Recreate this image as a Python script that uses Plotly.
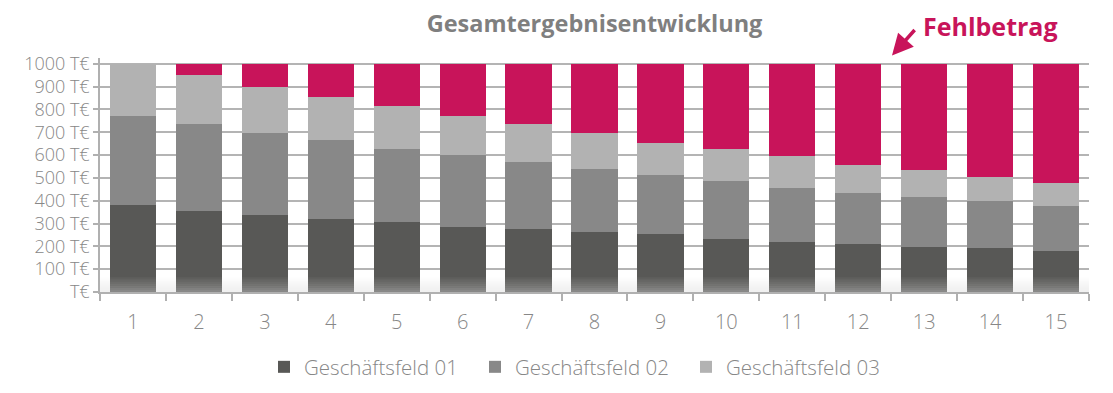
import plotly.graph_objects as go

categories = [str(i) for i in range(1, 16)]
gf01 = [383, 353, 337, 320, 308, 283, 275, 264, 253, 232, 219, 212, 197, 191, 178]
gf02 = [388, 382, 361, 345, 317, 316, 296, 273, 261, 254, 236, 223, 221, 209, 199]
gf03 = [229, 215, 200, 189, 189, 172, 165, 161, 140, 139, 142, 121, 118, 104, 100]
fehlbetrag = [0, 50, 102, 146, 186, 229, 264, 302, 346, 375, 403, 444, 464, 496, 523]

y_tickvals = [0, 100, 200, 300, 400, 500, 600, 700, 800, 900, 1000]
y_ticktext = ["T€", "100 T€", "200 T€", "300 T€", "400 T€", "500 T€",
              "600 T€", "700 T€", "800 T€", "900 T€", "1000 T€"]

C1, C2, C3, CF = "#585856", "#888888", "#b2b2b2", "#c8145a"
GRAY_TXT = "#878787"
FONT = "Open Sans"

W, H = 1105, 385  # page body offsets the figure by 8px

fig = go.Figure()
fig.add_trace(go.Bar(x=categories, y=gf01, name="Geschäftsfeld 01", marker_color=C1, marker_line_width=0))
fig.add_trace(go.Bar(x=categories, y=gf02, name="Geschäftsfeld 02", marker_color=C2, marker_line_width=0))
fig.add_trace(go.Bar(x=categories, y=gf03, name="Geschäftsfeld 03", marker_color=C3, marker_line_width=0))
fig.add_trace(go.Bar(x=categories, y=fehlbetrag, name="Fehlbetrag", marker_color=CF,
                     marker_line_width=0, showlegend=False))

# floor shading (decorative)
shapes = []
n = 7
for i in range(n):
    shapes.append(dict(type="rect", xref="paper", yref="paper",
                       x0=0, x1=1, y0=i * 0.009, y1=(i + 1) * 0.009,
                       fillcolor="rgba(215,215,215,%.3f)" % (0.38 * (1 - i / n)),
                       line_width=0, layer="above"))

fig.update_layout(
    width=W, height=H,
    margin=dict(l=92, r=24, t=50, b=101, autoexpand=False),
    barmode="stack", bargap=0.3,
    plot_bgcolor="white", paper_bgcolor="white",
    font=dict(family=FONT, color=GRAY_TXT, size=18),
    title=dict(text="<b>Gesamtergebnisentwicklung</b>", x=0.5, xref="paper",
               xanchor="center", y=1 - 16 / H, yref="container", yanchor="middle",
               font=dict(family=FONT, size=23.5, color="#7f7f7f")),
    showlegend=True,
    legend=dict(orientation="h", x=(278 - 8 - 14) / W, xref="container", xanchor="left",
                y=1 - 359 / H, yref="container", yanchor="middle",
                font=dict(family=FONT, size=20.5, color=GRAY_TXT, weight=300),
                traceorder="normal", itemwidth=30, entrywidth=166,
                entrywidthmode="pixels"),
    shapes=shapes,
)

fig.update_xaxes(type="category", showgrid=False, showline=True, linecolor="#b0b0b0",
                 linewidth=1.5, ticks="outside", tickson="boundaries", ticklen=7,
                 tickcolor="#b0b0b0", tickwidth=1.5, ticklabelstandoff=11,
                 automargin=False, tickfont=dict(size=20, color=GRAY_TXT, weight=300))
fig.update_yaxes(range=[0, 1025], tickvals=y_tickvals, ticktext=y_ticktext,
                 showgrid=True, gridcolor="#b4b4b4", gridwidth=1.5,
                 showline=True, linecolor="#b0b0b0", linewidth=1.5,
                 ticks="outside", ticklen=5, tickcolor="#b0b0b0", tickwidth=1.5,
                 zeroline=False, automargin=False,
                 tickfont=dict(size=18, color=GRAY_TXT, weight=300))

fig.add_annotation(text="<b>Fehlbetrag</b>", xref="paper", yref="paper",
                   x=(990 - 100) / 989, y=(292 - 25) / 234.5,
                   showarrow=False, font=dict(family=FONT, size=25, color=CF),
                   xanchor="center", yanchor="middle")
fig.add_annotation(text="", xref="paper", yref="paper",
                   x=(892 - 100) / 989, y=(292 - 55) / 234.5,
                   ax=24, ay=-27, showarrow=True, arrowhead=2, arrowsize=1.2,
                   arrowwidth=3.5, arrowcolor=CF, standoff=0)

fig.write_html("out.html")
